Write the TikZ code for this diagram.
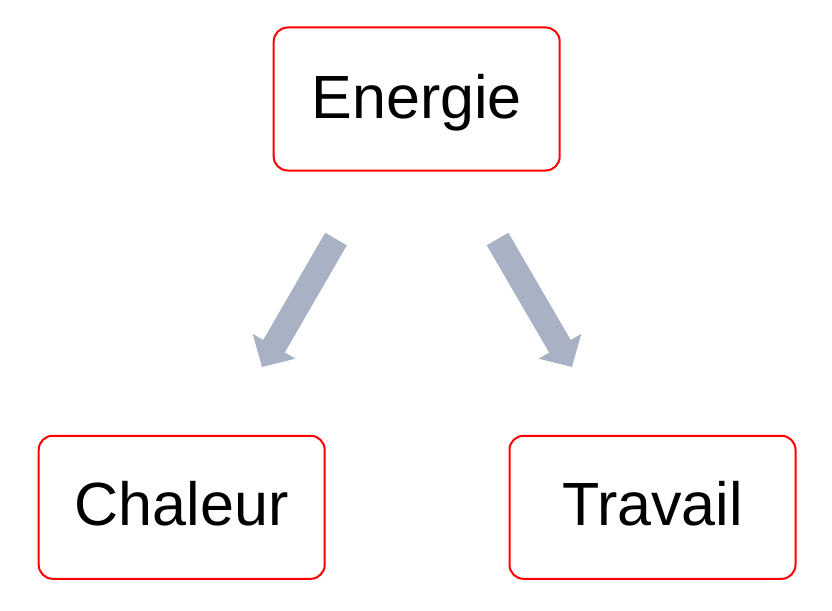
\documentclass[tikz,border=0pt]{standalone}
\usepackage{fontspec}
\setmainfont{Liberation Sans}
\usetikzlibrary{arrows.meta}
\definecolor{boxred}{RGB}{255,0,0}
\definecolor{arrowgrey}{RGB}{168,178,196}
\tikzset{
  box/.style={draw=boxred, line width=2pt, rounded corners=14pt, minimum width=286pt, minimum height=143pt, fill=white},
  label/.style={font=\fontsize{61}{61}\selectfont, anchor=base, inner sep=0pt},
  bigarrow/.style={draw=arrowgrey, line width=25pt, -{Triangle[width=48pt,length=24pt]}}
}
\begin{document}
\begin{tikzpicture}[x=1pt,y=-1pt]
\useasboundingbox (0,0) rectangle (832,610);
\node[box] (energie) at (416.7,99) {};
\node[box] (chaleur) at (181.7,507.3) {};
\node[box] (travail) at (652.5,507.3) {};
\node[label] (tE) at (416.7,118) {Energie};
\node[label] (tC) at (181.7,525) {Chaleur};
\node[label] (tT) at (652.5,525) {Travail};
\coordinate (a1s) at (336,239);
\coordinate (a1t) at (262,367);
\coordinate (a2s) at (497.5,239);
\coordinate (a2t) at (572,367);
\draw[bigarrow] (a1s) -- (a1t);
\draw[bigarrow] (a2s) -- (a2t);
\end{tikzpicture}
\end{document}
